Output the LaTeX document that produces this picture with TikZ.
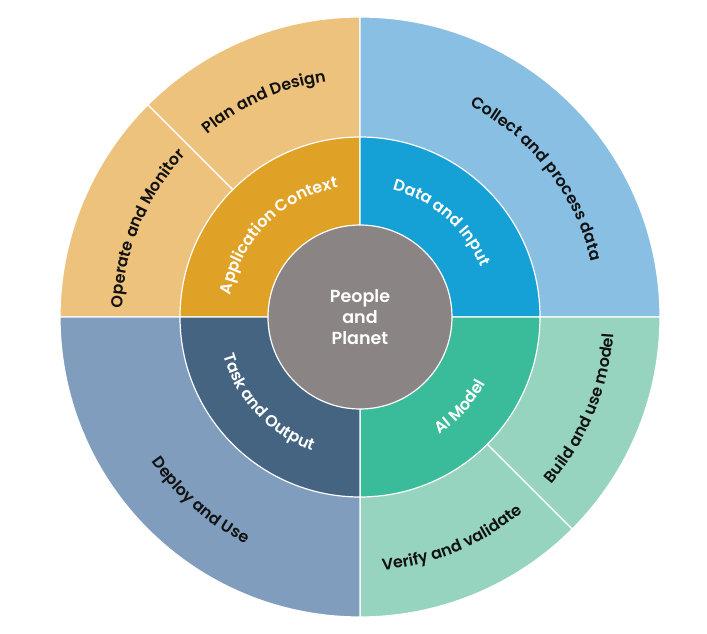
\documentclass[tikz,border=0pt]{standalone}
\usepackage{fontspec}
\usetikzlibrary{decorations.text}
\newfontfamily\lab{Poppins}[UprightFont={* SemiBold}]

\definecolor{planLight}{HTML}{EDC27D}
\definecolor{dataLight}{HTML}{88BFE3}
\definecolor{modelLight}{HTML}{97D4BF}
\definecolor{taskLight}{HTML}{809DBE}
\definecolor{planDark}{HTML}{E0A127}
\definecolor{dataDark}{HTML}{15A0D6}
\definecolor{modelDark}{HTML}{3ABC9B}
\definecolor{taskDark}{HTML}{446482}
\definecolor{coreGray}{HTML}{8A8584}
\definecolor{inkBlack}{HTML}{111111}

\begin{document}
\begin{tikzpicture}[x=1pt, y=1pt,
	sector/.style={draw=white, line width=1.2pt},
	darkText/.style={decorate, decoration={text along path, text align=center,
		text={|\lab\fontsize{16}{19}\selectfont\color{inkBlack}|#1}}},
	lightText/.style={decorate, decoration={text along path, text align=center,
		text={|\lab\fontsize{16}{19}\selectfont\color{white}|#1}}}]
	\useasboundingbox (-360,-317) rectangle (347,317);
	% outer ring
	\filldraw[sector, fill=planLight] (0,0) -- (90:300) arc[start angle=90, end angle=135, radius=300] -- cycle;
	\filldraw[sector, fill=planLight] (0,0) -- (135:300) arc[start angle=135, end angle=180, radius=300] -- cycle;
	\filldraw[sector, fill=dataLight] (0,0) -- (0:300) arc[start angle=0, end angle=90, radius=300] -- cycle;
	\filldraw[sector, fill=modelLight] (0,0) -- (-45:300) arc[start angle=-45, end angle=0, radius=300] -- cycle;
	\filldraw[sector, fill=modelLight] (0,0) -- (-90:300) arc[start angle=-90, end angle=-45, radius=300] -- cycle;
	\filldraw[sector, fill=taskLight] (0,0) -- (180:300) arc[start angle=180, end angle=270, radius=300] -- cycle;
	% inner ring
	\filldraw[sector, fill=planDark] (0,0) -- (90:180) arc[start angle=90, end angle=180, radius=180] -- cycle;
	\filldraw[sector, fill=dataDark] (0,0) -- (0:180) arc[start angle=0, end angle=90, radius=180] -- cycle;
	\filldraw[sector, fill=modelDark] (0,0) -- (-90:180) arc[start angle=-90, end angle=0, radius=180] -- cycle;
	\filldraw[sector, fill=taskDark] (0,0) -- (180:180) arc[start angle=180, end angle=270, radius=180] -- cycle;
	% core
	\node[circle, sector, fill=coreGray, minimum size=184pt, inner sep=0pt, align=center,
		text=white, font=\lab\fontsize{17.5}{21}\selectfont] (core) at (0,0) {People\\and\\Planet};
	% outer labels
	\path[darkText={Plan and Design}] (159:238) arc[start angle=159, end angle=69, radius=238];
	\path[darkText={Operate and Monitor}] (202.5:238) arc[start angle=202.5, end angle=112.5, radius=238];
	\path[darkText={Collect and process data}] (88:238) arc[start angle=88, end angle=-12, radius=238];
	\path[darkText={Build and use model}] (-67.5:254) arc[start angle=-67.5, end angle=22.5, radius=254];
	\path[darkText={Verify and validate}] (-112.5:254) arc[start angle=-112.5, end angle=-22.5, radius=254];
	\path[darkText={Deploy and Use}] (184:254) arc[start angle=184, end angle=274, radius=254];
	% inner labels
	\path[lightText={Application Context}] (185:131) arc[start angle=185, end angle=85, radius=131];
	\path[lightText={Data and Input}] (99:131) arc[start angle=99, end angle=-1, radius=131];
	\path[lightText={AI Model}] (-92:142) arc[start angle=-92, end angle=8, radius=142];
	\path[lightText={Task and Output}] (173:142) arc[start angle=173, end angle=273, radius=142];
\end{tikzpicture}
\end{document}
